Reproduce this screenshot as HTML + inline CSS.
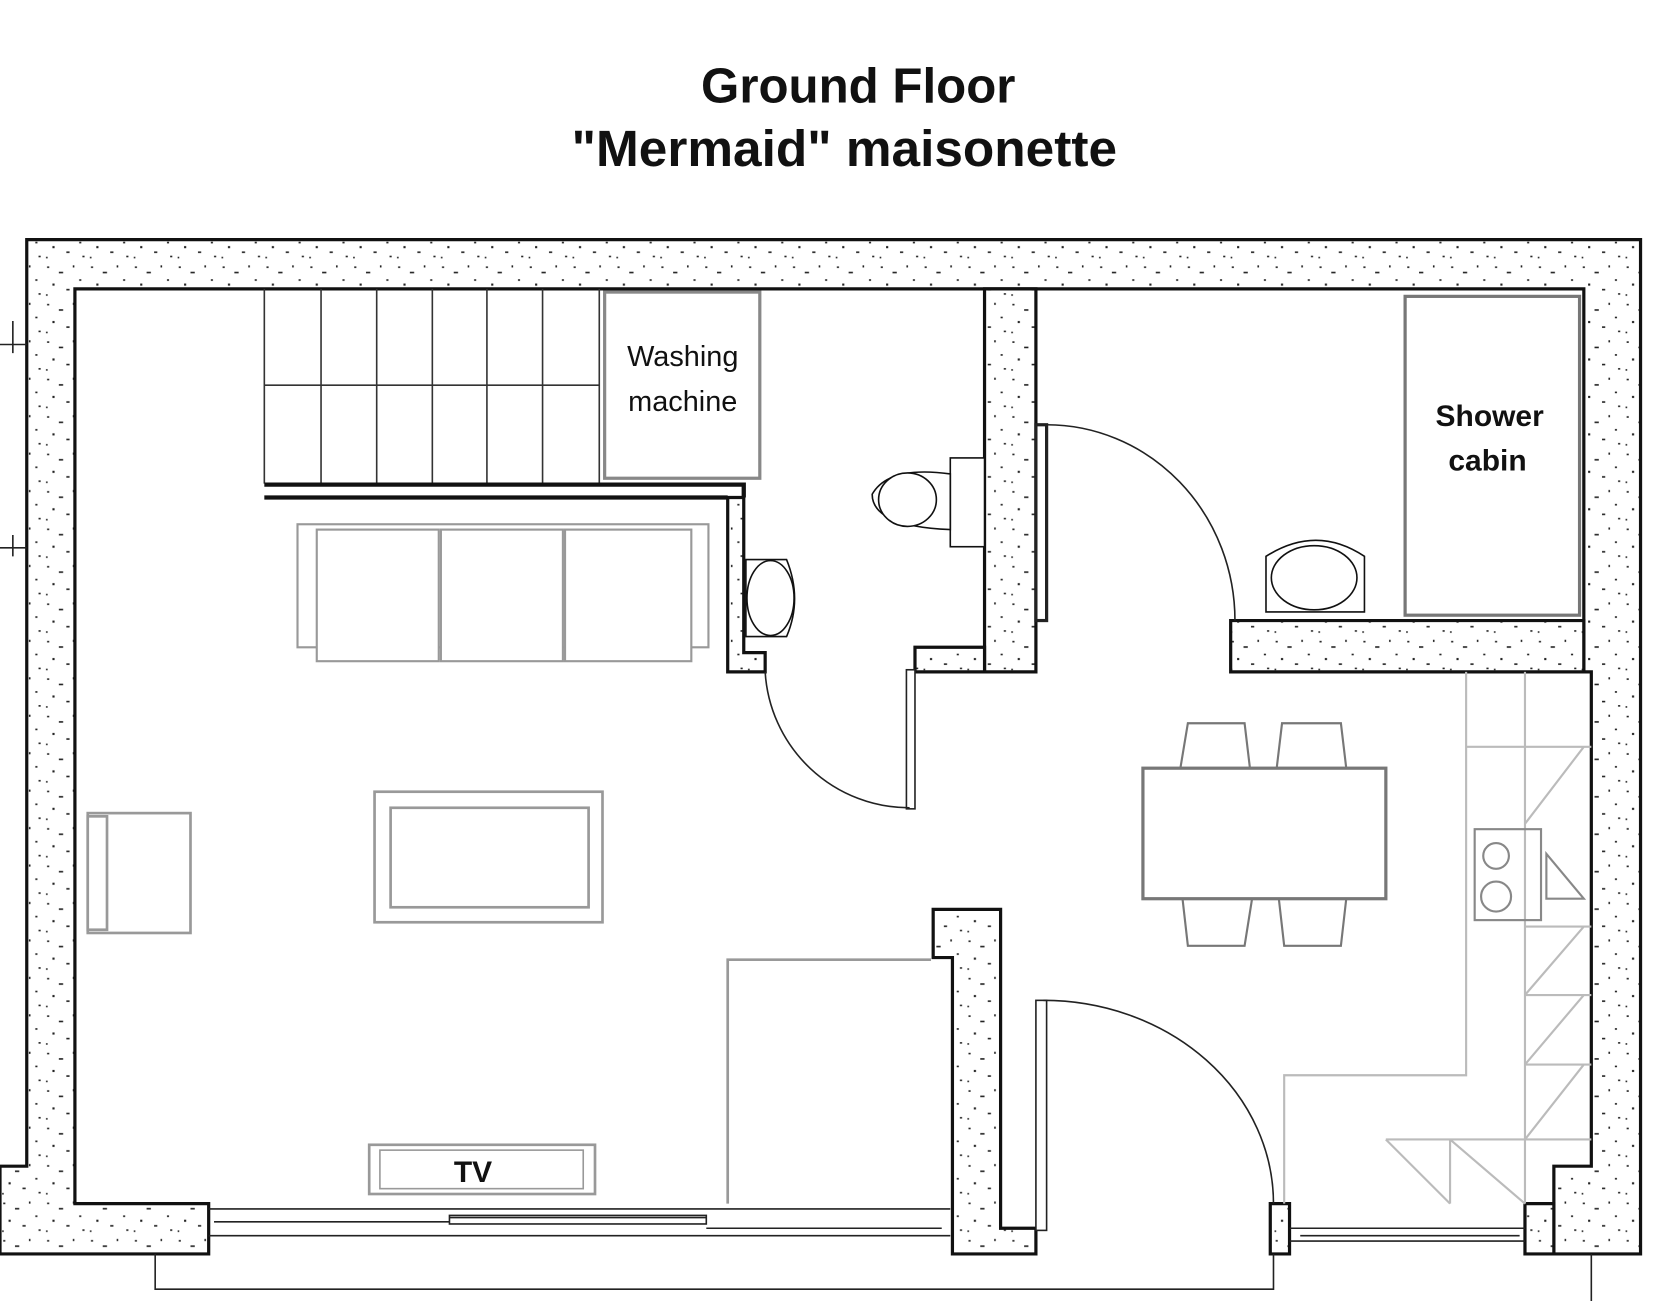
<!DOCTYPE html>
<html><head><meta charset="utf-8"><style>
html,body{margin:0;padding:0;background:#fff;}
svg{display:block}
</style></head><body>
<svg width="1678" height="1301" viewBox="0 0 1568 1216" preserveAspectRatio="none" xmlns="http://www.w3.org/2000/svg">
<defs>
<pattern id="sp" width="41" height="35" patternUnits="userSpaceOnUse">
<rect width="41" height="35" fill="#fff"/>
<g fill="#222">
<rect x="3" y="4" width="2" height="1.5"/><rect x="14" y="9" width="4" height="1.5"/><rect x="27" y="3" width="1.5" height="2"/>
<rect x="8" y="20" width="2" height="2"/><rect x="21" y="25" width="3" height="1.5"/><rect x="33" y="16" width="2" height="1.5"/>
<rect x="2" y="30" width="1.5" height="1.5"/><rect x="36" y="29" width="2" height="1.5"/>
</g></pattern>
</defs>
<g font-family="'Liberation Sans','DejaVu Sans',sans-serif" font-weight="bold" text-anchor="middle" fill="#111">
<text x="802" y="96" font-size="46">Ground Floor</text>
<text x="789" y="155" font-size="48">"Mermaid" maisonette</text>
</g>
<g fill="url(#sp)" stroke="#111" stroke-width="3">
<path d="M25,224 H1533 V1172 H1452 V1090 H1487 V628 H1480 V270 H70 V1125 H195 V1172 H0 V1090 H25 Z"/>
<path d="M920,270 H968 V628 H920 Z"/>
<path d="M1150,580 H1480 V628 H1150 Z"/>
<path d="M872,850 H935 V1148 H968 V1172 H890 V895 H872 Z"/>
<path d="M680,465 H695 V610 H715 V628 H680 Z"/>
<path d="M855,605 H920 V628 H855 Z"/>
<path d="M1425,1125 H1452 V1172 H1425 Z"/>
<path d="M1187,1125 H1205 V1172 H1187 Z"/>
</g>
<g stroke="#222" stroke-width="1.5" fill="none">
<path d="M195,1130 H888 M195,1155 H888 M200,1142 H420 M660,1148 H880 M420,1138 H660"/>
<rect x="420" y="1136" width="240" height="8"/>
<path d="M1205,1148 H1425 M1205,1160 H1425 M1215,1155 H1420"/>
<path d="M145,1172 V1205 H1190 V1172"/>
<path d="M1487,1172 V1216"/>
<path d="M0,322 H25 M0,512 H25 M12,300 V330 M12,500 V520"/>
</g>
<g stroke="#333" stroke-width="1.5" fill="none">
<path d="M247,270 V452 M300,270 V452 M352,270 V452 M404,270 V452 M455,270 V452 M507,270 V452 M560,270 V452 M247,360 H560"/>
</g>
<path d="M247,453 H695 V465" stroke="#111" stroke-width="4" fill="none"/>
<path d="M247,465 H680" stroke="#111" stroke-width="4" fill="none"/>
<rect x="565" y="273" width="145" height="174" fill="#fff" stroke="#888" stroke-width="3"/>
<g font-family="'Liberation Sans','DejaVu Sans',sans-serif" font-size="27" text-anchor="middle" fill="#111">
<text x="638" y="342">Washing</text><text x="638" y="384">machine</text>
</g>
<g stroke="#999" stroke-width="2" fill="#fff">
<rect x="278" y="490" width="384" height="115"/>
<rect x="296" y="495" width="114" height="123"/>
<rect x="412" y="495" width="114" height="123"/>
<rect x="528" y="495" width="118" height="123"/>
</g>
<g stroke="#111" stroke-width="1.5" fill="#fff">
<path d="M697,523 H735 Q750,560 735,595 H697 Z"/>
<ellipse cx="720" cy="559" rx="22" ry="35"/>
<rect x="888" y="428" width="32" height="83"/>
<path d="M888,443 Q830,435 815,462 Q815,492 888,495 Z"/>
<ellipse cx="848" cy="467" rx="27" ry="25"/>
</g>
<g stroke="#222" stroke-width="1.5" fill="none">
<rect x="847" y="626" width="8" height="130" fill="#fff"/>
<path d="M715,628 A135,135 0 0 0 850,755"/>
<rect x="968" y="397" width="10" height="183" fill="#fff" stroke-width="3"/>
<path d="M978,397 A176,183 0 0 1 1154,580"/>
<rect x="968" y="935" width="10" height="215" fill="#fff"/>
<path d="M975,935 A215,190 0 0 1 1190,1125"/>
</g>
<rect x="1313" y="277" width="163" height="298" fill="#fff" stroke="#777" stroke-width="3"/>
<g stroke="#111" stroke-width="1.5" fill="#fff">
<path d="M1183,572 V520 Q1230,490 1275,520 V572 Z"/>
<ellipse cx="1228" cy="540" rx="40" ry="30"/>
</g>
<g stroke="#999" stroke-width="2.5" fill="#fff">
<rect x="350" y="740" width="213" height="122"/>
<rect x="365" y="755" width="185" height="93"/>
<rect x="82" y="760" width="96" height="112"/>
<rect x="82" y="763" width="18" height="106"/>
<rect x="345" y="1070" width="211" height="46"/>
<rect x="355" y="1075" width="190" height="36" stroke-width="1.5"/>
</g>
<path d="M680,1125 V897 H870" stroke="#999" stroke-width="2.5" fill="none"/>
<g stroke="#777" stroke-width="2" fill="#fff">
<path d="M1103,718 L1110,676 H1163 L1168,718 Z"/>
<path d="M1193,718 L1198,676 H1253 L1258,718 Z"/>
<path d="M1105,840 L1110,884 H1163 L1170,840 Z"/>
<path d="M1195,840 L1200,884 H1253 L1258,840 Z"/>
<rect x="1068" y="718" width="227" height="122" stroke-width="3"/>
</g>
<g stroke="#bbb" stroke-width="2" fill="none">
<path d="M1370,628 V1005 H1200 V1125"/>
<path d="M1425,628 V1125 M1370,698 H1487 M1425,770 L1480,698 M1425,866 H1487 M1425,930 L1480,866 M1425,930 H1487 M1425,995 L1480,930 M1425,995 H1487 M1425,1065 L1480,995 M1295,1065 H1487 M1295,1065 L1355,1125 M1355,1065 V1125 M1355,1065 L1425,1125"/>
<rect x="1378" y="775" width="62" height="85" stroke="#888"/>
<circle cx="1398" cy="800" r="12" stroke="#888"/><circle cx="1398" cy="838" r="14" stroke="#888"/>
<path d="M1445,798 L1480,840 H1445 Z" stroke="#888"/>
</g>
<g font-family="'Liberation Sans','DejaVu Sans',sans-serif" font-weight="bold" font-size="28" text-anchor="middle" fill="#111">
<text x="1392" y="398">Shower</text><text x="1390" y="440">cabin</text>
<text x="442" y="1105">TV</text>
</g>
</svg>
</body></html>
